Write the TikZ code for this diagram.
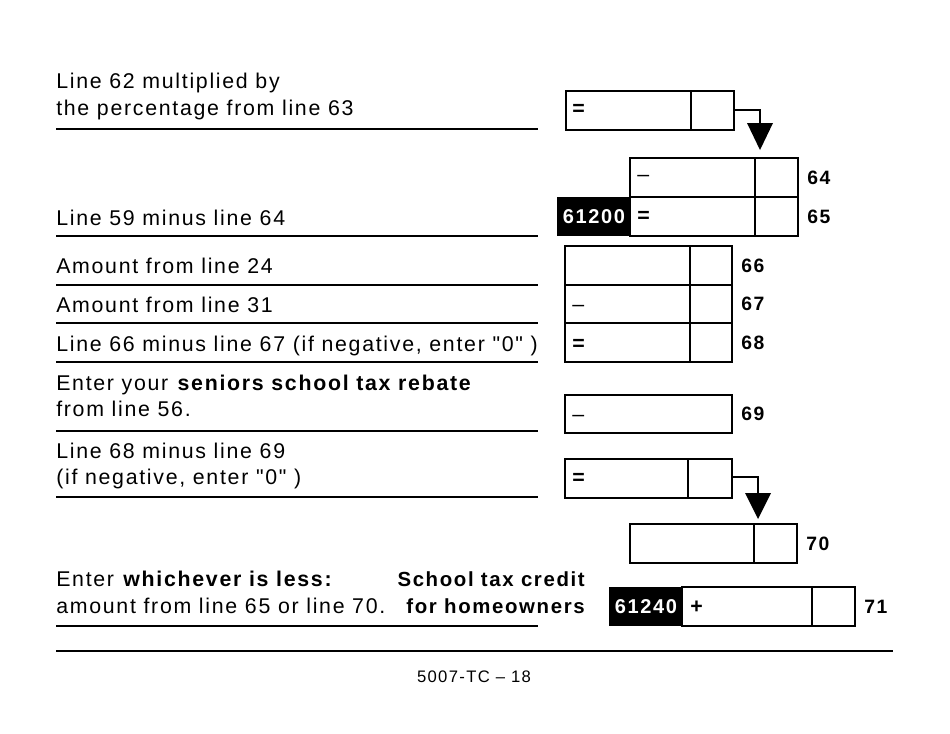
\documentclass[tikz,border=0pt]{standalone}
\usepackage{fontspec}
\setmainfont{Liberation Sans}[LetterSpace=8,Ligatures=TeXOff,WordSpace=1.15]
\newfontfamily\bnum{Liberation Sans}[LetterSpace=8]
\begin{document}
\begin{tikzpicture}[x=0.75pt,y=-0.75pt,
  bx/.style={draw,line width=1.3pt},
  ul/.style={line width=1.3pt},
  lbl/.style={anchor=base west,inner sep=0pt,font=\fontsize{16}{18}\selectfont},
  num/.style={anchor=base west,inner sep=0pt,font=\fontsize{14.5}{17}\selectfont\bfseries},
  blk/.style={fill=black,text=white,inner sep=0pt,font=\fontsize{15}{17}\selectfont\bfseries},
  tri/.style={fill=black}]
\useasboundingbox (0,0) rectangle (950,733);
% left labels
\node[lbl] (t1) at (56,88) {Line 62 multiplied by};
\node[lbl] (t2) at (56,115) {the percentage from line 63};
\node[lbl] (t3) at (56,225) {Line 59 minus line 64};
\node[lbl] (t4) at (56,273) {Amount from line 24};
\node[lbl] (t5) at (56,312) {Amount from line 31};
\node[lbl] (t6) at (56,351) {Line 66 minus line 67 (if negative, enter "0" )};
\node[lbl] (t7) at (56,390) {Enter your \textbf{seniors school tax rebate}};
\node[lbl] (t8) at (56,416) {from line 56.};
\node[lbl] (t9) at (56,458) {Line 68 minus line 69};
\node[lbl] (t10) at (56,484) {(if negative, enter "0" )};
\node[lbl] (t11) at (56,586) {Enter \textbf{whichever is less:}};
\node[lbl] (t12) at (56,613) {amount from line 65 or line 70.};
\node[num,anchor=base east,font=\fontsize{15.3}{18}\selectfont\bfseries] (t13) at (585,586) {School tax credit};
\node[num,anchor=base east,font=\fontsize{15.3}{18}\selectfont\bfseries] (t14) at (585,613) {for homeowners};
% underlines
\foreach \y in {129,236,285,323,362,431,497,626} \draw[ul] (56,\y) -- (538,\y);
\draw[ul] (56,651) -- (893,651);
\node[inner sep=0pt,font=\fontsize{12.5}{14}\selectfont] (ft) at (474,677) {5007-TC \textendash{} 18};
% boxes
\draw[bx] (566,91) rectangle (734,130); \draw[bx] (691,91) -- (691,130);
\node[lbl] (e1) at (572,115) {\textbf{=}};
\draw[line width=1pt] (734,110) -- (760,110) -- (760,124);
\fill[tri] (747,123) -- (773,123) -- (760,150) -- cycle;
\draw[bx] (630,158) rectangle (798,236); \draw[bx] (630,197) -- (798,197); \draw[bx] (755,158) -- (755,236);
\node[lbl] (m1) at (637,181) {\textendash};
\node[lbl] (e2) at (637,222) {\textbf{=}};
\node[blk,minimum width=55pt,minimum height=29pt,anchor=north west] (k1) at (557,197) {\bnum 61200};
\node[num] (n64) at (807,184) {64};
\node[num] (n65) at (807,223) {65};
\draw[bx] (565,246) rectangle (732,362); \draw[bx] (565,285) -- (732,285); \draw[bx] (565,323) -- (732,323); \draw[bx] (690,246) -- (690,362);
\node[lbl] (m2) at (572,311) {\textendash};
\node[lbl] (e3) at (572,350) {\textbf{=}};
\node[num] (n66) at (741,272) {66};
\node[num] (n67) at (741,310) {67};
\node[num] (n68) at (741,349) {68};
\draw[bx] (565,395) rectangle (732,433);
\node[lbl] (m3) at (572,421) {\textendash};
\node[num] (n69) at (741,420) {69};
\draw[bx] (565,459) rectangle (732,498); \draw[bx] (688,459) -- (688,498);
\node[lbl] (e4) at (572,484) {\textbf{=}};
\draw[line width=1pt] (732,477) -- (758,477) -- (758,494);
\fill[tri] (745,493) -- (771,493) -- (758,519) -- cycle;
\draw[bx] (630,524) rectangle (797,563); \draw[bx] (754,524) -- (754,563);
\node[num] (n70) at (806,550) {70};
\node[blk,minimum width=55pt,minimum height=29pt,anchor=north west] (k2) at (609,587) {\bnum 61240};
\draw[bx] (682,587) rectangle (855,626); \draw[bx] (812,587) -- (812,626);
\node[lbl] (p1) at (690,613) {\textbf{+}};
\node[num] (n71) at (864,613) {71};
\end{tikzpicture}
\end{document}
